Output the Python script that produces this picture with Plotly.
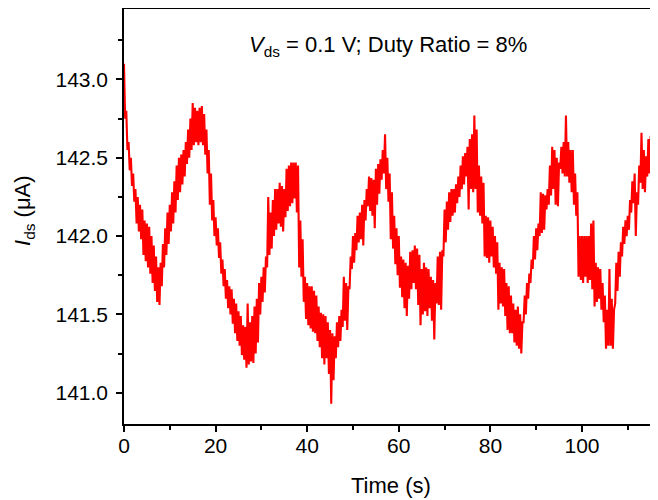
import numpy as np
import plotly.graph_objects as go

# Ids vs time, every 0.5 s: upper edge of the noisy band
# (at t) and lower edge (at t + 0.25 s)
t_step = 0.5
i_upper = [
    143.10, 142.80, 142.60, 142.50, 142.40, 142.30, 142.25, 142.20, 142.17, 142.10,
    142.08, 142.06, 142.00, 141.94, 141.87, 141.80, 141.83, 141.95, 142.05, 142.15,
    142.20, 142.28, 142.35, 142.45, 142.50, 142.52, 142.55, 142.60, 142.68, 142.75,
    142.85, 142.82, 142.80, 142.82, 142.83, 142.78, 142.68, 142.55, 142.40, 142.23,
    142.12, 142.05, 141.96, 141.85, 141.79, 141.72, 141.68, 141.66, 141.60, 141.57,
    141.52, 141.49, 141.43, 141.42, 141.57, 141.45, 141.49, 141.55, 141.60, 141.70,
    141.74, 141.80, 141.87, 142.25, 142.15, 142.23, 142.30, 142.30, 142.34, 142.32,
    142.30, 142.43, 142.45, 142.47, 142.47, 142.47, 142.45, 142.10, 141.98, 141.74,
    141.70, 141.68, 141.68, 141.65, 141.62, 141.55, 141.51, 141.50, 141.49, 141.45,
    141.40, 141.38, 141.36, 141.45, 141.49, 141.53, 141.74, 141.70, 141.68, 141.87,
    142.00, 142.02, 142.13, 142.15, 142.20, 142.23, 142.30, 142.38, 142.37, 142.36,
    142.43, 142.46, 142.49, 142.55, 142.65, 142.50, 142.40, 142.28, 142.13, 142.05,
    142.00, 141.87, 141.85, 141.83, 141.81, 141.90, 141.91, 141.94, 141.92, 141.88,
    141.79, 141.83, 141.80, 141.79, 141.74, 141.72, 141.70, 141.87, 141.90, 141.91,
    142.17, 142.22, 142.28, 142.30, 142.30, 142.33, 142.38, 142.45, 142.51, 142.53,
    142.57, 142.62, 142.65, 142.77, 142.68, 142.45, 142.38, 142.34, 142.13, 142.12,
    142.10, 142.06, 142.00, 141.96, 141.83, 141.80, 141.79, 141.70, 141.68, 141.62,
    141.57, 141.53, 141.55, 141.50, 141.45, 141.62, 141.70, 141.76, 141.85, 142.00,
    142.05, 142.08, 142.28, 142.27, 142.26, 142.30, 142.45, 142.57, 142.55, 142.50,
    142.47, 142.57, 142.60, 142.77, 142.60, 142.55, 142.55, 142.40, 142.28, 142.00,
    142.00, 142.00, 142.00, 142.00, 142.08, 142.10, 141.83, 141.80, 141.79, 141.70,
    141.62, 141.53, 141.79, 141.60, 141.53, 141.83, 141.90, 141.96, 142.06, 142.10,
    142.13, 142.23, 142.35, 142.40, 142.28, 142.45, 142.66, 142.55, 142.51, 142.62,
    142.64, 142.66, 142.70, 142.65,
]
i_lower = [
    142.75, 142.55, 142.42, 142.32, 142.22, 142.08, 142.03, 141.98, 141.88, 141.84,
    141.80, 141.76, 141.70, 141.65, 141.58, 141.56, 141.68, 141.80, 141.88, 141.95,
    142.03, 142.08, 142.15, 142.23, 142.28, 142.33, 142.38, 142.46, 142.50, 142.55,
    142.58, 142.60, 142.58, 142.60, 142.58, 142.52, 142.40, 142.20, 142.10, 142.00,
    141.94, 141.86, 141.76, 141.68, 141.60, 141.54, 141.50, 141.44, 141.38, 141.33,
    141.30, 141.24, 141.21, 141.16, 141.18, 141.20, 141.19, 141.25, 141.32, 141.50,
    141.58, 141.64, 141.80, 141.88, 141.92, 142.00, 142.04, 142.08, 142.06, 142.03,
    142.12, 142.16, 142.19, 142.21, 142.24, 142.15, 141.80, 141.74, 141.58, 141.47,
    141.43, 141.41, 141.39, 141.38, 141.33, 141.29, 141.22, 141.18, 141.22, 141.12,
    140.93, 141.08, 141.22, 141.29, 141.33, 141.42, 141.46, 141.40, 141.66, 141.79,
    141.83, 141.91, 141.96, 141.98, 141.94, 142.10, 142.19, 142.16, 142.13, 142.05,
    142.20, 142.27, 142.36, 142.40, 142.30, 142.22, 141.98, 141.92, 141.82, 141.75,
    141.67, 141.61, 141.54, 141.49, 141.60, 141.66, 141.70, 141.66, 141.56, 141.43,
    141.50, 141.52, 141.49, 141.54, 141.46, 141.34, 141.57, 141.56, 141.53, 141.87,
    141.96, 142.04, 142.09, 142.13, 142.15, 142.21, 142.25, 142.30, 142.33, 142.38,
    142.17, 142.30, 142.28, 142.30, 142.15, 142.13, 142.08, 141.87, 141.86, 141.83,
    141.87, 141.80, 141.76, 141.53, 141.57, 141.55, 141.49, 141.40, 141.38, 141.38,
    141.32, 141.30, 141.28, 141.25, 141.45, 141.50, 141.60, 141.70, 141.79, 141.85,
    141.91, 142.00, 142.02, 142.04, 142.17, 142.20, 142.26, 142.30, 142.20, 142.19,
    142.43, 142.40, 142.38, 142.38, 142.34, 142.28, 142.20, 142.13, 141.74, 141.72,
    141.70, 141.74, 141.70, 141.72, 141.66, 141.55, 141.58, 141.60, 141.53, 141.45,
    141.28, 141.30, 141.30, 141.28, 141.57, 141.65, 141.74, 141.87, 141.95, 142.00,
    142.04, 142.15, 142.21, 142.00, 142.20, 142.34, 142.30, 142.28, 142.38, 142.40,
    142.43, 142.38, 142.45, 142.50,
]

n = len(i_upper)
t_up = np.arange(n) * t_step
t_lo = t_up + t_step / 2
time = np.column_stack([t_up, t_lo]).ravel()
ids = np.column_stack([i_upper, i_lower]).ravel()

FONT = "Arial, Liberation Sans, sans-serif"
TICKS = dict(family=FONT, size=21, color="black")
TITLE = dict(family=FONT, size=22, color="black")

fig = go.Figure()
fig.add_trace(go.Scatter(x=time, y=ids, mode="lines",
                         line=dict(color="#ff0000", width=2.1), showlegend=False))

axis_common = dict(
    showline=True, linecolor="black", linewidth=1.5,
    ticks="outside", ticklen=6, tickwidth=1.5, tickcolor="black",
    showgrid=False, zeroline=False, automargin=False,
    tickfont=TICKS,
)
fig.update_xaxes(
    range=[0, 116.6], tickvals=[0, 20, 40, 60, 80, 100], mirror=True,
    minor=dict(tickvals=[10, 30, 50, 70, 90, 110], ticks="outside", ticklen=4,
               tickwidth=1.5, tickcolor="black"),
    ticklabelstandoff=-4,
    **axis_common,
)
fig.update_yaxes(
    range=[140.8, 143.45], tickvals=[141.0, 141.5, 142.0, 142.5, 143.0], tickformat=".1f",
    minor=dict(tickvals=[141.25, 141.75, 142.25, 142.75, 143.25], ticks="outside", ticklen=4,
               tickwidth=1.5, tickcolor="black"),
    ticklabelstandoff=4,
    **axis_common,
)

# axis titles and in-plot label
fig.add_annotation(x=0.5, y=-0.147, xref="paper", yref="paper", showarrow=False,
                   text="Time (s)", font=TITLE, yanchor="middle")
fig.add_annotation(x=-0.186, y=0.515, xref="paper", yref="paper", showarrow=False,
                   text="<i>I</i><sub>ds</sub> (μA)", font=TITLE, textangle=-90,
                   xanchor="center", yanchor="middle")
fig.add_annotation(
    x=0.495, y=0.91, xref="paper", yref="paper", showarrow=False,
    text="<i>V</i><sub>ds</sub> = 0.1 V; Duty Ratio = 8%",
    font=TITLE, yanchor="middle",
)

# the page body adds an 8 px offset, so the figure is 8 px smaller each way
fig.update_layout(
    width=650, height=492,
    margin=dict(l=116, r=0, t=1, b=76),
    plot_bgcolor="white", paper_bgcolor="white",
)

fig.write_html("out.html")
